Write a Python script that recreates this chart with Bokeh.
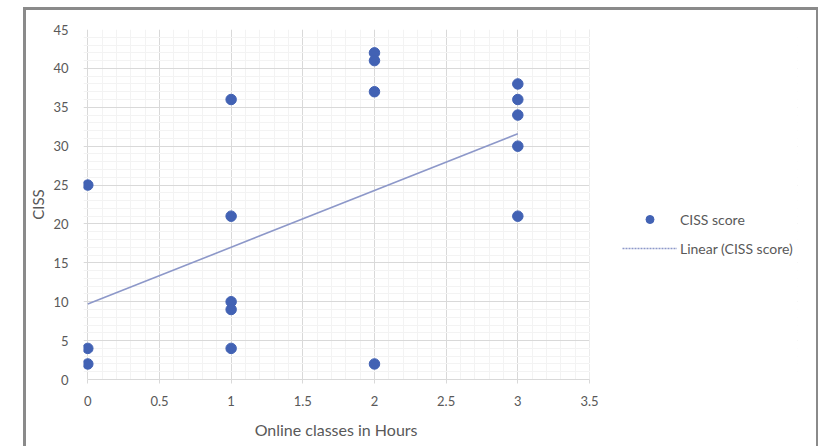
from bokeh.plotting import figure
from bokeh.models import (Range1d, Legend, LegendItem, SingleIntervalTicker,
                          NumeralTickFormatter, ColumnDataSource, BoxAnnotation, Title)
from bokeh.embed import file_html
from bokeh.resources import INLINE

# Data
hours = [0, 0, 0, 1, 1, 1, 1, 1, 2, 2, 2, 2, 3, 3, 3, 3, 3]
ciss = [25, 4, 2, 36, 21, 10, 9, 4, 42, 41, 37, 2, 38, 36, 34, 30, 21]
trend_x = [0, 3]
trend_y = [9.7, 31.6]
series_name = "CISS score"
trend_name = "Linear (CISS score)"
x_title = "Online classes in Hours"
y_title = "CISS"
x_max = 3.5
y_max = 45

FONT = "Lato"
TXT = "#595959"
BLUE = "#4262B4"

PX_PER_UNIT = 143.34
W, LEFT, RIGHT = 796, 57, 25
FRAME_W = W - LEFT - RIGHT
x_end = -0.03 + FRAME_W / PX_PER_UNIT

p = figure(width=W, height=446, output_backend="svg", toolbar_location=None,
           x_range=Range1d(-0.03, x_end), y_range=Range1d(0, y_max),
           min_border_left=LEFT, min_border_right=RIGHT, min_border_top=19, min_border_bottom=77)
p.margin = (7, 0, 0, 23)
p.styles = {"border": "3px solid #8a8a8a"}
p.outline_line_color = None
p.background_fill_color = "white"
p.border_fill_color = "white"

# tickers / grids
p.xaxis.ticker = SingleIntervalTicker(interval=0.5, num_minor_ticks=5)
p.yaxis.ticker = SingleIntervalTicker(interval=5, num_minor_ticks=5)
p.xgrid.ticker = p.xaxis.ticker
p.ygrid.ticker = p.yaxis.ticker
for g in (p.xgrid, p.ygrid):
    g.grid_line_color = "#d9d9d9"
    g.grid_line_width = 1
    g.minor_grid_line_color = "#f3f3f3"
    g.minor_grid_line_width = 1
    g.level = "image"
p.xaxis.bounds = (0, x_max)
p.xgrid.bounds = (0, x_max)

# white cover for the area right of the plot (legend area)
cover = BoxAnnotation(left=x_max, fill_color="white", fill_alpha=1, line_color=None, level="underlay")
p.add_layout(cover)

p.xaxis.formatter = NumeralTickFormatter(format="0.[0]")
p.yaxis.formatter = NumeralTickFormatter(format="0")

for ax in (p.xaxis, p.yaxis):
    ax.major_label_text_font = FONT
    ax.major_label_text_font_size = "13px"
    ax.major_label_text_color = TXT
    ax.axis_label_text_font = FONT
    ax.axis_label_text_font_size = "15px"
    ax.axis_label_text_color = TXT
    ax.axis_label_text_font_style = "normal"
    ax.minor_tick_line_color = None

p.yaxis.axis_label = y_title
p.xaxis.axis_line_color = "#d9d9d9"
p.xaxis.major_tick_line_color = "#d9d9d9"
p.xaxis.major_tick_out = 4
p.xaxis.major_tick_in = 0
p.xaxis.major_label_standoff = 12
p.yaxis.axis_line_color = None
p.yaxis.major_tick_line_color = None
p.yaxis.major_tick_out = 0
p.yaxis.major_tick_in = 0
p.yaxis.major_label_standoff = 11
p.yaxis.axis_label_standoff = 3

# x-axis title centred under the 0..3.5 part of the frame
title_text_w = 168
plot_center_px = (0.03 + x_max / 2) * PX_PER_UNIT
xt = Title(text=x_title, align="left", offset=plot_center_px - title_text_w / 2,
           text_font=FONT, text_font_size="16px", text_color=TXT, text_font_style="normal",
           standoff=18)
p.add_layout(xt, "below")

src = ColumnDataSource(dict(x=hours, y=ciss))
pts = p.scatter("x", "y", source=src, size=10.5, fill_color=BLUE, line_color=BLUE)
tl = p.line(trend_x, trend_y, line_color="#8d98c9", line_width=1.6)
tl_leg = p.line(trend_x, trend_y, line_color="#8d98c9", line_width=1.6, line_dash="2 1", visible=False)

legend = Legend(items=[LegendItem(label=series_name, renderers=[pts]),
                       LegendItem(label=trend_name, renderers=[tl_leg])],
                location=(539, 121))
legend.border_line_color = None
legend.background_fill_alpha = 0
legend.padding = 0
legend.margin = 0
legend.spacing = 9
legend.glyph_width = 55
legend.glyph_height = 20
legend.label_standoff = 3
legend.label_text_font = FONT
legend.label_text_font_size = "14px"
legend.label_text_color = TXT
p.add_layout(legend, "center")

open("out.html", "w").write(file_html(p, INLINE))
